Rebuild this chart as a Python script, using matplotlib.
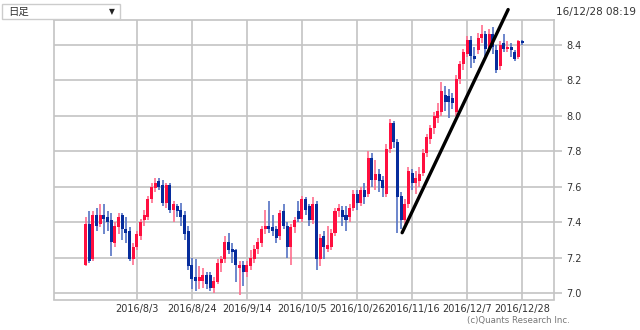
import numpy as np
import matplotlib
matplotlib.use("Agg")
import matplotlib.pyplot as plt

plt.rcParams['font.family'] = ['DejaVu Sans', 'Noto Sans CJK JP']

# daily candles, 2016/7 .. 2016/12/28
opens = [7.16, 7.39, 7.19, 7.44, 7.39, 7.44, 7.43, 7.41, 7.28, 7.37,
         7.44, 7.36, 7.35, 7.19, 7.26, 7.32, 7.41, 7.43, 7.53, 7.59,
         7.63, 7.61, 7.51, 7.61, 7.47, 7.49, 7.47, 7.44, 7.35, 7.16,
         7.09, 7.07, 7.07, 7.10, 7.10, 7.03, 7.06, 7.17, 7.19, 7.29,
         7.25, 7.24, 7.14, 7.16, 7.12, 7.15, 7.19, 7.25, 7.28, 7.36,
         7.38, 7.37, 7.36, 7.32, 7.46, 7.38, 7.26, 7.37, 7.46, 7.42,
         7.53, 7.49, 7.41, 7.50, 7.19, 7.32, 7.25, 7.26, 7.34, 7.46,
         7.47, 7.44, 7.43, 7.48, 7.56, 7.51, 7.58, 7.56, 7.76, 7.64,
         7.67, 7.64, 7.56, 7.81, 7.96, 7.85, 7.55, 7.41, 7.50, 7.68,
         7.62, 7.63, 7.68, 7.79, 7.87, 7.93, 7.99, 8.02, 8.12, 8.11,
         8.10, 8.02, 8.21, 8.29, 8.35, 8.43, 8.34, 8.37, 8.44, 8.46,
         8.38, 8.46, 8.37, 8.28, 8.41, 8.38, 8.39, 8.36, 8.33, 8.42]
closes = [7.39, 7.18, 7.44, 7.38, 7.44, 7.42, 7.40, 7.29, 7.38, 7.43,
          7.36, 7.34, 7.19, 7.26, 7.33, 7.40, 7.44, 7.53, 7.60, 7.62,
          7.60, 7.51, 7.61, 7.47, 7.50, 7.46, 7.43, 7.33, 7.15, 7.08,
          7.07, 7.09, 7.10, 7.05, 7.03, 7.07, 7.17, 7.19, 7.29, 7.24,
          7.23, 7.16, 7.16, 7.12, 7.16, 7.20, 7.25, 7.29, 7.36, 7.38,
          7.36, 7.35, 7.31, 7.45, 7.38, 7.26, 7.37, 7.41, 7.42, 7.53,
          7.47, 7.41, 7.50, 7.19, 7.31, 7.26, 7.27, 7.34, 7.46, 7.48,
          7.43, 7.41, 7.48, 7.56, 7.51, 7.58, 7.54, 7.76, 7.64, 7.67,
          7.63, 7.59, 7.81, 7.96, 7.85, 7.54, 7.41, 7.50, 7.69, 7.62,
          7.65, 7.67, 7.79, 7.88, 7.93, 8.00, 8.03, 8.14, 8.08, 8.08,
          8.07, 8.21, 8.29, 8.36, 8.43, 8.34, 8.32, 8.44, 8.46, 8.38,
          8.46, 8.39, 8.26, 8.40, 8.38, 8.39, 8.37, 8.32, 8.42, 8.41]
highs = [7.43, 7.46, 7.46, 7.48, 7.50, 7.50, 7.46, 7.45, 7.40, 7.45,
         7.45, 7.43, 7.37, 7.28, 7.35, 7.42, 7.47, 7.55, 7.62, 7.65,
         7.65, 7.64, 7.62, 7.62, 7.52, 7.50, 7.51, 7.46, 7.38, 7.20,
         7.19, 7.15, 7.14, 7.12, 7.12, 7.09, 7.19, 7.21, 7.32, 7.34,
         7.28, 7.25, 7.18, 7.18, 7.18, 7.24, 7.27, 7.31, 7.38, 7.47,
         7.52, 7.44, 7.38, 7.47, 7.50, 7.40, 7.39, 7.43, 7.52, 7.55,
         7.54, 7.50, 7.54, 7.52, 7.33, 7.35, 7.38, 7.36, 7.48, 7.50,
         7.49, 7.49, 7.50, 7.58, 7.58, 7.60, 7.62, 7.80, 7.79, 7.75,
         7.70, 7.66, 7.84, 7.98, 7.97, 7.87, 7.57, 7.53, 7.71, 7.70,
         7.69, 7.71, 7.81, 7.90, 7.95, 8.02, 8.07, 8.19, 8.17, 8.15,
         8.13, 8.23, 8.31, 8.38, 8.45, 8.45, 8.39, 8.47, 8.51, 8.48,
         8.49, 8.50, 8.40, 8.42, 8.46, 8.42, 8.41, 8.37, 8.43, 8.43]
lows = [7.15, 7.17, 7.18, 7.35, 7.37, 7.33, 7.35, 7.21, 7.26, 7.33,
        7.30, 7.28, 7.18, 7.16, 7.24, 7.30, 7.38, 7.41, 7.51, 7.57,
        7.58, 7.49, 7.48, 7.45, 7.40, 7.43, 7.38, 7.30, 7.13, 7.02,
        7.01, 7.02, 7.03, 7.02, 7.01, 7.00, 7.05, 7.12, 7.17, 7.22,
        7.17, 7.06, 6.99, 7.04, 7.09, 7.13, 7.17, 7.22, 7.26, 7.33,
        7.34, 7.32, 7.28, 7.30, 7.36, 7.20, 7.16, 7.34, 7.40, 7.40,
        7.44, 7.38, 7.39, 7.13, 7.15, 7.19, 7.23, 7.24, 7.32, 7.43,
        7.38, 7.35, 7.40, 7.46, 7.47, 7.49, 7.50, 7.54, 7.60, 7.58,
        7.57, 7.54, 7.54, 7.79, 7.82, 7.34, 7.36, 7.39, 7.48, 7.58,
        7.56, 7.60, 7.66, 7.77, 7.84, 7.90, 7.96, 8.00, 8.03, 7.99,
        8.04, 8.00, 8.18, 8.26, 8.33, 8.27, 8.30, 8.35, 8.41, 8.34,
        8.36, 8.35, 8.24, 8.26, 8.36, 8.36, 8.33, 8.31, 8.32, 8.40]

tick_pos = [14, 29, 44, 59, 74, 89, 104, 119]
tick_labels = ['2016/8/3', '2016/8/24', '2016/9/14', '2016/10/5',
               '2016/10/26', '2016/11/16', '2016/12/7', '2016/12/28']
y_ticks = [7.0, 7.2, 7.4, 7.6, 7.8, 8.0, 8.2, 8.4]

# hand-drawn trend line
trend_x = [86.3, 115.2]
trend_y = [7.34, 8.60]

UP = '#ff0f3f'
DOWN = '#062c9c'
UP_WICK = '#ff6e8e'
DOWN_WICK = '#5472c4'
GRID = '#c4c4c4'

o = np.array(opens)
c = np.array(closes)
h = np.array(highs)
l = np.array(lows)
idx = np.arange(len(o))
up = c >= o

fig = plt.figure(figsize=(6.4, 3.3), dpi=100)
ax = fig.add_axes([54 / 640, 1 - 299.5 / 330, 500 / 640, 279.5 / 330])

ax.vlines(idx, l, h, colors=np.where(up, UP_WICK, DOWN_WICK), linewidth=1.2, zorder=2)
body = np.maximum(np.abs(c - o), 0.006)
ax.bar(idx, body, bottom=np.minimum(o, c), width=0.82,
       color=np.where(up, UP, DOWN), linewidth=0, zorder=3)

ax.plot(trend_x, trend_y, color='black', linewidth=2.4, solid_capstyle='round',
        clip_on=False, zorder=5)

ax.set_xlim(-8.6, 127.7)
ax.set_ylim(6.963, 8.541)
ax.set_xticks(tick_pos)
ax.set_xticklabels(tick_labels)
ax.set_yticks(y_ticks)
ax.set_yticklabels([f'{v:.1f}' for v in y_ticks])
ax.yaxis.tick_right()
ax.grid(True, color=GRID, linewidth=1.2)
ax.set_axisbelow(True)
for s in ax.spines.values():
    s.set_color(GRID)
    s.set_linewidth(1.2)
ax.tick_params(axis='y', colors=GRID, length=6, width=1.2, labelcolor='#333333',
               labelsize=7, pad=3)
ax.tick_params(axis='x', length=0, labelcolor='#333333', labelsize=7, pad=3)

# period selector box
fig.patches.append(plt.Rectangle((2 / 640, 1 - 19 / 330), 118 / 640, 15 / 330,
                                 transform=fig.transFigure, facecolor='white',
                                 edgecolor='#cccccc', linewidth=1))
fig.text(8 / 640, 1 - 12 / 330, '日足', fontsize=7.5, va='center', color='#333333',
         family=['Noto Sans CJK JP', 'DejaVu Sans'])
fig.text(112 / 640, 1 - 12 / 330, '▼', fontsize=5.5, va='center', ha='center',
         color='#222222')

fig.text(636 / 640, 1 - 12 / 330, '16/12/28 08:19', fontsize=7.5, ha='right',
         va='center', color='#333333')
fig.text(570 / 640, 1 - 321 / 330, '(c)Quants Research Inc.', fontsize=6.2,
         ha='right', va='center', color='#777777')

fig.savefig('out.png', dpi=100)
